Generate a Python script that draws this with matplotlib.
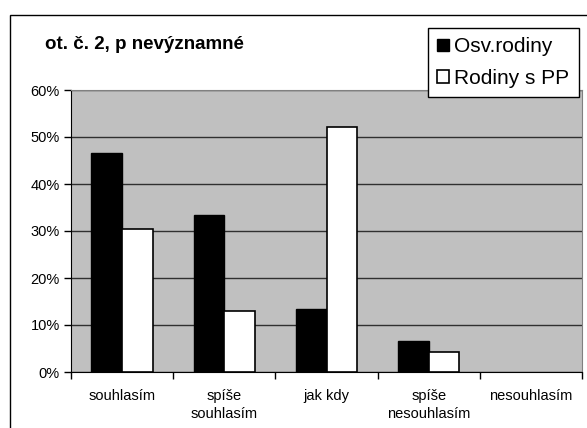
import matplotlib.pyplot as plt
from matplotlib.patches import Rectangle
from matplotlib.ticker import PercentFormatter
import numpy as np

plt.rcParams['font.family'] = ['Liberation Sans', 'DejaVu Sans']

categories = ['souhlasím', 'spíše\nsouhlasím', 'jak kdy', 'spíše\nnesouhlasím', 'nesouhlasím']
osv_rodiny = [46.7, 33.3, 13.3, 6.7, 0.0]
rodiny_pp = [30.4, 13.0, 52.2, 4.3, 0.0]
series_names = ['Osv.rodiny', 'Rodiny s PP']

fig = plt.figure(figsize=(5.87, 4.28), dpi=100)
ax = fig.add_axes([71/587, 1 - 372/428, 511/587, 282/428])

# outer chart border (runs off the right and bottom edge)
fig.patches.append(Rectangle((10/587, -0.05), 1.0, 1 - 15/428 + 0.05,
                             transform=fig.transFigure, fill=False,
                             edgecolor='black', linewidth=1.0))

x = np.arange(len(categories))
w = 0.3
ax.set_facecolor('#c0c0c0')
# zero-height bars get no outline, like in Excel
ax.bar(x - w/2, osv_rodiny, w, color='black', edgecolor='black',
       linewidth=[1 if v > 0 else 0 for v in osv_rodiny], label=series_names[0], zorder=3)
ax.bar(x + w/2, rodiny_pp, w, color='white', edgecolor='black',
       linewidth=[1.2 if v > 0 else 0 for v in rodiny_pp], label=series_names[1], zorder=3)

ax.set_xlim(-0.5, len(categories) - 0.5)
ax.set_ylim(0, 60)
ax.set_yticks(np.arange(0, 61, 10))
ax.yaxis.set_major_formatter(PercentFormatter(decimals=0))
ax.grid(axis='y', color='#303030', linewidth=1, zorder=1)

ax.set_xticks(np.arange(len(categories) + 1) - 0.5)
ax.set_xticklabels([])
ax.set_xticks(x, minor=True)
ax.set_xticklabels(categories, minor=True, fontsize=10.5, linespacing=1.35)
ax.tick_params(axis='x', which='minor', length=0, pad=12)
ax.tick_params(axis='x', which='major', length=5, width=1)
ax.tick_params(axis='y', length=5, width=1, labelsize=10.5, pad=3)

for s in ['top', 'right']:
    ax.spines[s].set_color('#808080')
for s in ['left', 'bottom']:
    ax.spines[s].set_color('black')

fig.text(45/587, 1 - 49/428, 'ot. č. 2, p nevýznamné', fontsize=13.5, fontweight='bold',
         va='baseline', ha='left')

leg = fig.legend(loc='upper left', bbox_to_anchor=(428/587, 1 - 28/428), fontsize=15,
                 frameon=True, fancybox=False, edgecolor='black', framealpha=1,
                 handlelength=0.55, handleheight=0.55, handletextpad=0.25,
                 borderpad=0.45, labelspacing=0.6, borderaxespad=0)
leg.get_frame().set_linewidth(1)

fig.savefig('out.png', dpi=100)
